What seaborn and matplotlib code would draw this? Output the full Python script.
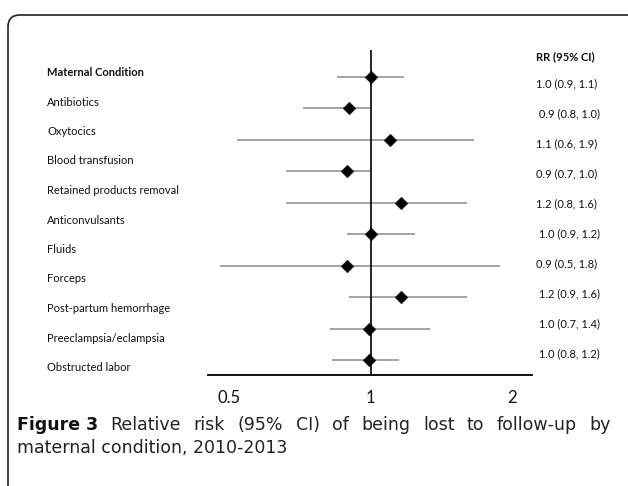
import numpy as np
import pandas as pd
import matplotlib
matplotlib.use("Agg")
import matplotlib.pyplot as plt
import seaborn as sns
from matplotlib.patches import FancyBboxPatch
from matplotlib.ticker import NullLocator

# left column (heading + conditions)
heading = "Maternal Condition"
conditions = ["Antibiotics", "Oxytocics", "Blood transfusion",
              "Retained products removal", "Anticonvulsants", "Fluids",
              "Forceps", "Post-partum hemorrhage", "Preeclampsia/eclampsia",
              "Obstructed labor"]

# right column, as printed
rr_heading = "RR (95% CI)"
rr_text = ["1.0 (0.9, 1.1)", " 0.9 (0.8, 1.0)", "1.1 (0.6, 1.9)", "0.9 (0.7, 1.0)",
           "1.2 (0.8, 1.6)", " 1.0 (0.9, 1.2)", "0.9 (0.5, 1.8)", " 1.2 (0.9, 1.6)",
           " 1.0 (0.7, 1.4)", " 1.0 (0.8, 1.2)"]

# estimates and CI ends as they are drawn in the plot
rr = [1.00, 0.90, 1.10, 0.89, 1.16, 1.00, 0.89, 1.16, 0.99, 0.99]
ci_low = [0.85, 0.72, 0.52, 0.66, 0.66, 0.89, 0.48, 0.90, 0.82, 0.83]
ci_high = [1.18, 1.00, 1.66, 1.00, 1.60, 1.24, 1.88, 1.60, 1.34, 1.15]

xticks = [0.5, 1, 2]
xtick_labels = ["0.5", "1", "2"]

caption_bold = "Figure 3"
caption_line1 = "Relative risk (95% CI) of being lost to follow-up by"
caption_line2 = "maternal condition, 2010-2013"

sns.set_style("white")
plt.rcParams["font.family"] = ["Lato", "DejaVu Sans"]

W, H = 628, 486
fig = plt.figure(figsize=(W / 100, H / 100), dpi=100)

# rounded frame that runs off the right and bottom edges
frame = FancyBboxPatch((0.08, -0.5), 6.6, 4.71 + 0.5,
                       boxstyle="round,pad=0,rounding_size=0.12",
                       transform=fig.dpi_scale_trans, fill=False,
                       edgecolor="#222222", lw=1.2)
fig.patches.append(frame)

df = pd.DataFrame({"row": np.arange(len(rr)), "rr": rr,
                   "lo": ci_low, "hi": ci_high})

ax = fig.add_axes([208 / W, 1 - 375 / H, (532 - 208) / W, (375 - 50) / H])
ax.set_facecolor("none")
ax.hlines(df["row"], df["lo"], df["hi"], color="#8a8a8a", lw=1.1, zorder=1)
ax.axvline(1, color="black", lw=1.2, zorder=2)
sns.scatterplot(data=df, x="rr", y="row", marker="D", s=42, color="black",
                edgecolor="black", linewidth=0.3, ax=ax, zorder=3)

ax.set_xscale("log", base=2)
ax.set_xlim(0.452, 2.2)
ax.set_ylim(9.477, -0.859)
ax.set_xticks(xticks)
ax.set_xticklabels(xtick_labels)
ax.xaxis.set_minor_locator(NullLocator())
ax.set_yticks([])
ax.set_xlabel("")
ax.set_ylabel("")
ax.tick_params(axis="x", length=0, pad=11, labelsize=12, labelcolor="#111111")
for s in ["top", "left", "right"]:
    ax.spines[s].set_visible(False)
ax.spines["bottom"].set_color("black")
ax.spines["bottom"].set_linewidth(1.3)

# left labels
fig.text(47 / W, 1 - 73 / H, heading, fontsize=8, fontweight="bold",
         va="center", ha="left", color="#111111")
for i, lab in enumerate(conditions):
    fig.text(47 / W, 1 - (102 + 29.5 * i) / H, lab, fontsize=8,
             va="center", ha="left", color="#111111")

# right column
fig.text(536 / W, 1 - 57 / H, rr_heading, fontsize=8, fontweight="bold",
         va="center", ha="left", color="#111111")
for i, t in enumerate(rr_text):
    fig.text(536 / W, 1 - (84 + 30 * i) / H, t, fontsize=8,
             va="center", ha="left", color="#111111")

# caption, first line justified between x=17 and x=611
cap_font = ["DejaVu Sans"]
cap_size = 12.5
y1 = 1 - 425 / H
y2 = 1 - 448 / H
fig.canvas.draw()
rend = fig.canvas.get_renderer()
tb = fig.text(17 / W, y1, caption_bold, fontsize=cap_size, fontweight="bold",
              family=cap_font, va="center", ha="left", color="#111111")
items = [tb]
for w in caption_line1.split():
    items.append(fig.text(0, y1, w, fontsize=cap_size, family=cap_font,
                          va="center", ha="left", color="#222222"))
widths = [t.get_window_extent(rend).width for t in items]
gap = (611 - 17 - sum(widths)) / (len(items) - 1)
x = 17 + widths[0]
for t, wd in zip(items[1:], widths[1:]):
    x += gap
    t.set_x(x / W)
    x += wd
fig.text(17 / W, y2, caption_line2, fontsize=cap_size, family=cap_font,
         va="center", ha="left", color="#222222")

fig.savefig("out.png", dpi=100)
